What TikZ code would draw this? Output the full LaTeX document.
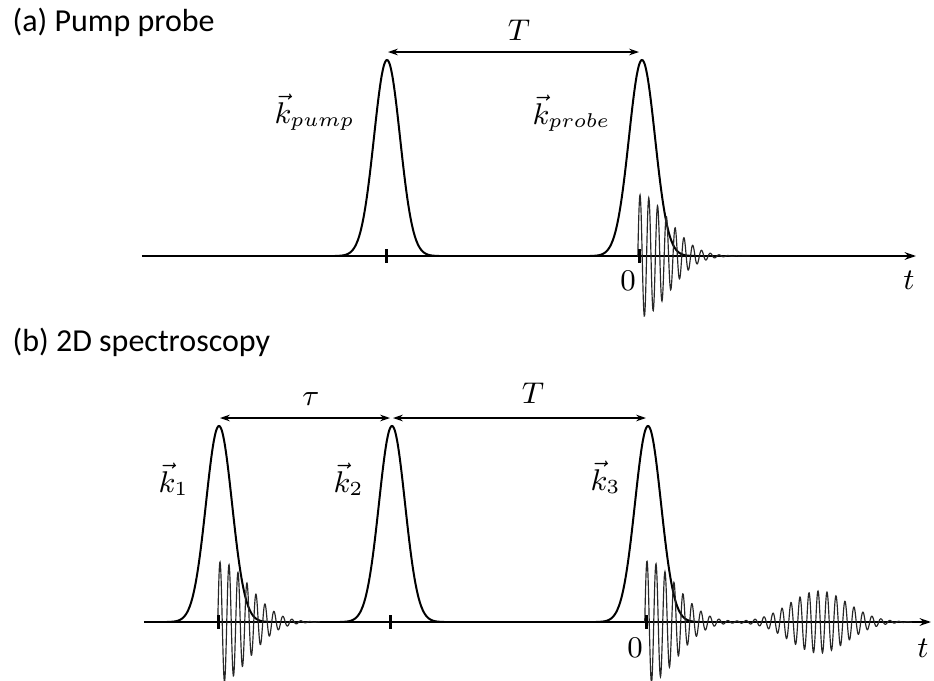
\documentclass[tikz,border=0pt]{standalone}
\usepackage{fontspec}
\newfontfamily\titlefont{Carlito}
\usetikzlibrary{arrows.meta}
\begin{document}
\begin{tikzpicture}[x=0.3pt,y=-0.3pt,
  axis/.style={line width=0.6pt,-{Stealth[length=3.4pt,width=2.3pt]}},
  pulse/.style={line width=0.6pt},
  osc/.style={line width=0.35pt,black!85},
  tickmark/.style={line width=0.9pt},
  dimarrow/.style={line width=0.35pt,{Stealth[length=3pt,width=2pt]}-{Stealth[length=3pt,width=2pt]}},
  paneltitle/.style={font=\titlefont\fontsize{9.6}{11.5}\selectfont,anchor=base west,inner sep=0pt},
  mlabel/.style={font=\fontsize{9.5}{11}\selectfont,inner sep=0pt,anchor=base},
  klabel/.style={font=\fontsize{9}{11}\selectfont,inner sep=0pt,anchor=base west}
]
\useasboundingbox (0,0) rectangle (934,681);

% ---------------- panel (a) ----------------
\node[paneltitle] (titleA) at (12,31) {(a) Pump probe};
\coordinate (axA0) at (142,256);
\coordinate (axA1) at (916,256);
\draw[axis] (axA0) -- (axA1);

\draw[pulse] plot[domain=-52:52,samples=121] ({387+\x},{256-196*exp(-0.5*(\x/13)^2)});
\draw[pulse] plot[domain=-52:52,samples=121] ({642+\x},{256-196*exp(-0.5*(\x/13)^2)});

\draw[osc] plot[domain=-2.2:110,samples=400]
  ({640+\x},{256-61*exp(-min((max(\x,0)/40)^2,9))*cos(\x*40.909)});

\draw[tickmark] (387,249) -- (387,263);
\draw[tickmark] (640,249) -- (640,263);

\coordinate (TA0) at (388,52);
\coordinate (TA1) at (639,52);
\draw[dimarrow] (TA0) -- (TA1);
\node[mlabel] (labTA) at (519,40) {$T$};
\node[klabel] (kpump) at (274,123) {$\vec{k}_{pump}$};
\node[klabel] (kprobe) at (532,124) {$\vec{k}_{probe}$};
\node[mlabel] (zeroA) at (628,290) {$0$};
\node[mlabel] (tA) at (909,289) {$t$};

% ---------------- panel (b) ----------------
\node[paneltitle] (titleB) at (12,351) {(b) 2D spectroscopy};
\coordinate (axB0) at (144,622);
\coordinate (axB1) at (931,622);
\draw[axis] (axB0) -- (axB1);

\draw[pulse] plot[domain=-52:52,samples=121] ({219+\x},{622-196*exp(-0.5*(\x/13)^2)});
\draw[pulse] plot[domain=-52:52,samples=121] ({392+\x},{622-196*exp(-0.5*(\x/13)^2)});
\draw[pulse] plot[domain=-52:52,samples=121] ({648+\x},{622-196*exp(-0.5*(\x/13)^2)});

\draw[osc] plot[domain=-2.25:100,samples=400]
  ({220+\x},{622-60*exp(-min((max(\x,0)/41)^2,9))*cos(\x*40)});

\draw[osc] plot[domain=-2.25:265,samples=900]
  ({647+\x},{622-61*exp(-min((max(\x,0)/41)^2,9))*cos(\x*40)
      -31*exp(-min(0.5*((\x-172)/29)^2,9))*cos(\x*40)});

\draw[tickmark] (219,615) -- (219,629);
\draw[tickmark] (391,615) -- (391,629);
\draw[tickmark] (647,615) -- (647,629);

\coordinate (tau0) at (220,418);
\coordinate (tau1) at (390,418);
\coordinate (TB0) at (393,418);
\coordinate (TB1) at (646,418);
\draw[dimarrow] (tau0) -- (tau1);
\draw[dimarrow] (TB0) -- (TB1);
\node[mlabel] (labtau) at (311,405) {$\tau$};
\node[mlabel] (labTB) at (533,403) {$T$};
\node[klabel] (k1) at (158,492) {$\vec{k}_1$};
\node[klabel] (k2) at (333,492) {$\vec{k}_2$};
\node[klabel] (k3) at (590,490) {$\vec{k}_3$};
\node[mlabel] (zeroB) at (635,657) {$0$};
\node[mlabel] (tB) at (923,657) {$t$};
\end{tikzpicture}
\end{document}
